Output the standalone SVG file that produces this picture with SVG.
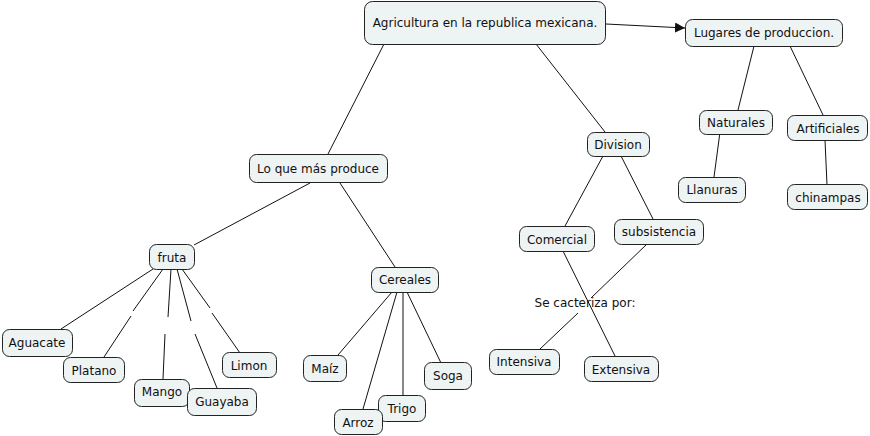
<svg xmlns="http://www.w3.org/2000/svg" width="870" height="436" viewBox="0 0 870 436">
<defs>
<style>
.n rect{fill:#eef3f4;stroke:#222;stroke-width:1}
text{font-family:"DejaVu Sans","Verdana",sans-serif;font-size:12px;fill:#111;text-anchor:middle}
.c line{stroke:#111;stroke-width:1}
</style>
<marker id="ah" markerWidth="10" markerHeight="10" refX="10" refY="5" orient="auto" markerUnits="userSpaceOnUse">
<path d="M0,0 L10,5 L0,10 z" fill="#111"/>
</marker>
</defs>
<rect width="870" height="436" fill="#fff"/>
<g class="c" id="connectors">
<line x1="606" y1="24" x2="685" y2="28" marker-end="url(#ah)"/>
<line x1="384" y1="44" x2="328" y2="154"/>
<line x1="536" y1="44" x2="605" y2="132"/>
<line x1="754" y1="46" x2="738" y2="110"/>
<line x1="790" y1="46" x2="823" y2="115"/>
<line x1="720" y1="132" x2="714" y2="177"/>
<line x1="825" y1="140" x2="827" y2="185"/>
<line x1="603" y1="156" x2="565" y2="226"/>
<line x1="621" y1="156" x2="653" y2="219"/>
<line x1="563" y1="251" x2="615" y2="356"/>
<line x1="647" y1="244" x2="591" y2="298"/>
<line x1="578" y1="313" x2="540" y2="349"/>
<line x1="310" y1="183" x2="194" y2="245"/>
<line x1="340" y1="183" x2="395" y2="267"/>
<line x1="153" y1="269" x2="61" y2="329"/>
<line x1="163" y1="269" x2="133" y2="311"/>
<line x1="131" y1="316" x2="104" y2="357"/>
<line x1="171" y1="269" x2="168" y2="317"/>
<line x1="165" y1="334" x2="163" y2="379"/>
<line x1="177" y1="269" x2="191" y2="321"/>
<line x1="195" y1="334" x2="217" y2="388"/>
<line x1="182" y1="269" x2="210" y2="308"/>
<line x1="212" y1="313" x2="240" y2="353"/>
<line x1="392" y1="292" x2="338" y2="355"/>
<line x1="397" y1="292" x2="363" y2="409"/>
<line x1="403" y1="292" x2="403" y2="396"/>
<line x1="407" y1="292" x2="441" y2="363"/>
</g>
<g class="n" id="agricultura"><rect x="364.5" y="1.5" width="241" height="43" rx="8"/><text x="485" y="27">Agricultura en la republica mexicana.</text></g>
<g class="n" id="lugares"><rect x="685.5" y="19.5" width="157" height="27" rx="7"/><text x="764" y="37">Lugares de produccion.</text></g>
<g class="n" id="loque"><rect x="249.5" y="154.5" width="138" height="28" rx="7"/><text x="318" y="173">Lo que más produce</text></g>
<g class="n" id="division"><rect x="587.5" y="132.5" width="62" height="24" rx="7"/><text x="618" y="149">Division</text></g>
<g class="n" id="naturales"><rect x="699.5" y="110.5" width="73" height="24" rx="7"/><text x="736" y="127">Naturales</text></g>
<g class="n" id="artificiales"><rect x="787.5" y="115.5" width="80" height="25" rx="7"/><text x="828" y="133">Artificiales</text></g>
<g class="n" id="llanuras"><rect x="678.5" y="177.5" width="67" height="25" rx="7"/><text x="712" y="194">Llanuras</text></g>
<g class="n" id="chinampas"><rect x="787.5" y="184.5" width="80" height="25" rx="7"/><text x="828" y="202">chinampas</text></g>
<g class="n" id="comercial"><rect x="519.5" y="226.5" width="75" height="25" rx="7"/><text x="557" y="244">Comercial</text></g>
<g class="n" id="subsistencia"><rect x="614.5" y="219.5" width="89" height="25" rx="7"/><text x="659" y="236">subsistencia</text></g>
<g id="secacteriza"><text x="585" y="307">Se cacteriza por:</text></g>
<g class="n" id="intensiva"><rect x="489.5" y="349.5" width="70" height="25" rx="7"/><text x="524" y="366">Intensiva</text></g>
<g class="n" id="extensiva"><rect x="584.5" y="356.5" width="74" height="25" rx="7"/><text x="621" y="374">Extensiva</text></g>
<g class="n" id="fruta"><rect x="149.5" y="244.5" width="45" height="25" rx="7"/><text x="172" y="262">fruta</text></g>
<g class="n" id="aguacate"><rect x="2.5" y="329.5" width="70" height="27" rx="7"/><text x="37" y="347">Aguacate</text></g>
<g class="n" id="platano"><rect x="63.5" y="357.5" width="61" height="25" rx="7"/><text x="94" y="375">Platano</text></g>
<g class="n" id="limon"><rect x="222.5" y="352.5" width="54" height="25" rx="7"/><text x="249" y="370">Limon</text></g>
<g class="n" id="mango"><rect x="134.5" y="379.5" width="55" height="27" rx="7"/><text x="162" y="396">Mango</text></g>
<g class="n" id="guayaba"><rect x="187.5" y="388.5" width="69" height="27" rx="7"/><text x="222" y="406">Guayaba</text></g>
<g class="n" id="cereales"><rect x="371.5" y="267.5" width="67" height="25" rx="7"/><text x="405" y="284">Cereales</text></g>
<g class="n" id="maiz"><rect x="303.5" y="355.5" width="43" height="26" rx="7"/><text x="325" y="373">Maíz</text></g>
<g class="n" id="soga"><rect x="424.5" y="362.5" width="47" height="27" rx="7"/><text x="448" y="380">Soga</text></g>
<g class="n" id="trigo"><rect x="378.5" y="395.5" width="47" height="26" rx="7"/><text x="402" y="413">Trigo</text></g>
<g class="n" id="arroz"><rect x="334.5" y="409.5" width="48" height="25" rx="7"/><text x="358" y="427">Arroz</text></g>
</svg>
